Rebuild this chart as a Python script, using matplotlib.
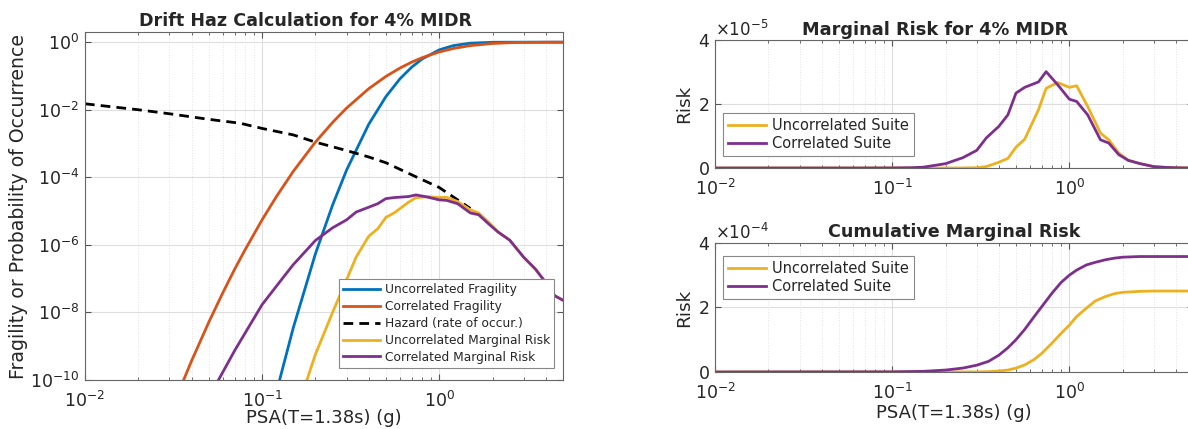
import matplotlib
matplotlib.use("Agg")
import matplotlib.pyplot as plt
from matplotlib.ticker import LogLocator, NullLocator, NullFormatter, ScalarFormatter, FixedLocator

# ---- data ----
psa_frag = [0.01, 0.02, 0.03, 0.04, 0.05, 0.06, 0.07, 0.08, 0.1, 0.12, 0.15, 0.2,
            0.25, 0.3, 0.4, 0.5, 0.6, 0.7, 0.8, 1.0, 1.2, 1.5, 2.0, 2.5, 3.0, 4.0, 5.0]
frag_uncorr = [1e-47, 1e-34, 1e-27, 1e-23, 1e-20, 1e-18, 1e-16, 3.4e-15, 7.2e-13, 4.0e-11,
               3.5e-9, 5.4e-7, 1.5e-5, 1.64e-4, 3.7e-3, 0.0244, 0.082, 0.183, 0.317,
               0.591, 0.790, 0.935, 0.9925, 0.9992, 0.9999, 1.0, 1.0]
frag_corr = [6e-19, 3.4e-14, 9.8e-12, 3.7e-10, 5.1e-9, 3.8e-8, 1.9e-7, 7.0e-7, 5.5e-6,
             2.6e-5, 1.5e-4, 1.1e-3, 4.2e-3, 0.0112, 0.0419, 0.0968, 0.171, 0.257, 0.346,
             0.513, 0.649, 0.792, 0.914, 0.964, 0.984, 0.9965, 0.9991]

psa_haz = [0.01, 0.02, 0.03, 0.05, 0.075, 0.1, 0.15, 0.2, 0.3, 0.4, 0.5, 0.75, 1.0, 1.5]
hazard = [1.5e-2, 1.0e-2, 7.6e-3, 5.2e-3, 4.0e-3, 2.8e-3, 1.8e-3, 1.1e-3, 6.2e-4,
          4.0e-4, 2.7e-4, 1.0e-4, 5.0e-5, 1.2e-5]

psa_risk = [0.01, 0.02, 0.03, 0.05, 0.07, 0.1, 0.13, 0.15, 0.2, 0.25, 0.3, 0.34, 0.4,
            0.45, 0.5, 0.56, 0.67, 0.74, 0.86, 1.0, 1.1, 1.27, 1.5, 1.67, 1.9, 2.15,
            2.5, 3.0, 3.5, 4.0, 4.5, 5.0]
risk_uncorr = [1e-28, 1e-24, 1e-22, 1e-19, 1e-17, 1e-14, 6e-13, 6e-12, 5.7e-10, 1.0e-8,
               9.3e-8, 4.4e-7, 1.8e-6, 3.0e-6, 6.5e-6, 9.0e-6, 1.82e-5, 2.49e-5, 2.67e-5,
               2.52e-5, 2.57e-5, 1.92e-5, 1.09e-5, 8.8e-6, 4.7e-6, 2.4e-6,
               1.4e-6, 4.3e-7, 1.9e-7, 7.6e-8, 3.1e-8, 2.3e-8]
risk_corr = [1e-17, 5e-15, 2.5e-13, 3e-11, 7.4e-10, 1.7e-8, 1.0e-7, 2.6e-7, 1.35e-6,
             3.2e-6, 5.5e-6, 9.4e-6, 1.3e-5, 1.66e-5, 2.34e-5, 2.52e-5, 2.69e-5, 3.01e-5,
             2.6e-5, 2.15e-5, 2.08e-5, 1.66e-5, 8.8e-6, 7.8e-6, 4.2e-6, 2.4e-6,
             1.38e-6, 4.3e-7, 1.9e-7, 7.6e-8, 3.1e-8, 2.3e-8]

psa_cum = [0.01, 0.1, 0.15, 0.2, 0.25, 0.3, 0.35, 0.4, 0.45, 0.5, 0.56, 0.63, 0.7, 0.8,
           0.9, 1.0, 1.1, 1.25, 1.4, 1.6, 1.8, 2.0, 2.5, 3.0, 4.0, 5.0]
cum_uncorr = [0, 0, 0, 0, 0.001e-4, 0.003e-4, 0.01e-4, 0.03e-4, 0.06e-4, 0.12e-4,
              0.22e-4, 0.38e-4, 0.58e-4, 0.9e-4, 1.2e-4, 1.45e-4, 1.72e-4, 1.98e-4,
              2.2e-4, 2.34e-4, 2.43e-4, 2.47e-4, 2.50e-4, 2.51e-4, 2.51e-4, 2.51e-4]
cum_corr = [0, 0.005e-4, 0.02e-4, 0.06e-4, 0.12e-4, 0.21e-4, 0.33e-4, 0.52e-4, 0.75e-4,
            1.0e-4, 1.32e-4, 1.7e-4, 2.03e-4, 2.45e-4, 2.78e-4, 3.0e-4, 3.16e-4, 3.32e-4,
            3.40e-4, 3.48e-4, 3.53e-4, 3.56e-4, 3.58e-4, 3.58e-4, 3.58e-4, 3.58e-4]

BLUE, ORANGE, YELLOW, PURPLE = "#0072BD", "#D95319", "#EDB120", "#7E2F8E"
TXT = "#262626"
plt.rcParams["font.family"] = ["DejaVu Sans"]
plt.rcParams["text.color"] = TXT
plt.rcParams["axes.labelcolor"] = TXT
plt.rcParams["xtick.color"] = TXT
plt.rcParams["ytick.color"] = TXT


def style_axes(ax):
    for s in ax.spines.values():
        s.set_color("#666666")
        s.set_linewidth(0.8)
    ax.tick_params(which="both", direction="in", top=True, right=True,
                   labelsize=12.5, color="#555555")
    ax.tick_params(which="major", length=4)
    ax.tick_params(which="minor", length=2.5)
    ax.tick_params(axis="x", which="major", pad=7.5)
    ax.tick_params(axis="y", which="major", pad=4)
    ax.set_xscale("log")
    ax.set_xlim(0.01, 5)
    ax.xaxis.set_major_locator(FixedLocator([0.01, 0.1, 1.0]))
    ax.xaxis.set_minor_locator(LogLocator(base=10, subs=range(2, 10)))
    ax.xaxis.set_minor_formatter(NullFormatter())
    ax.grid(True, which="major", color="#dedede", lw=0.8)
    ax.grid(True, which="minor", axis="x", color="#e3e3e3", lw=0.7, ls=":")
    ax.set_axisbelow(True)


def legend(ax, **kw):
    leg = ax.legend(fancybox=False, framealpha=1, edgecolor="#888888",
                    borderaxespad=0, handletextpad=0.4, borderpad=0.35, **kw)
    leg.get_frame().set_linewidth(0.8)
    return leg


fig = plt.figure(figsize=(11.88, 4.29), dpi=100)

# left panel
ax = fig.add_axes([0.0715, 0.1142, 0.4024, 0.8112])
ax.plot(psa_frag, frag_uncorr, color=BLUE, lw=2, label="Uncorrelated Fragility")
ax.plot(psa_frag, frag_corr, color=ORANGE, lw=2, label="Correlated Fragility")
ax.plot(psa_haz, hazard, color="black", lw=2, dashes=(3.5, 2.2),
        label="Hazard (rate of occur.)")
ax.plot(psa_risk, risk_uncorr, color=YELLOW, lw=2, label="Uncorrelated Marginal Risk")
ax.plot(psa_risk, risk_corr, color=PURPLE, lw=2, label="Correlated Marginal Risk")
style_axes(ax)
ax.set_yscale("log")
ax.set_ylim(1e-10, 2)
ax.yaxis.set_major_locator(FixedLocator([1e-10, 1e-8, 1e-6, 1e-4, 1e-2, 1e0]))
ax.yaxis.set_minor_locator(NullLocator())
ax.set_title("Drift Haz Calculation for 4% MIDR", fontsize=12.6, fontweight="bold",
             pad=4, x=0.462)
ax.set_xlabel("PSA(T=1.38s) (g)", fontsize=13, labelpad=-1)
ax.set_ylabel("Fragility or Probability of Occurrence", fontsize=13.6, labelpad=2)
legend(ax, loc="lower left", bbox_to_anchor=(0.531, 0.0345), fontsize=8.8,
       handlelength=3.0, labelspacing=0.32)

# right top panel
ax2 = fig.add_axes([0.6019, 0.6084, 0.4024, 0.2984])
ax2.plot(psa_risk, risk_uncorr, color=YELLOW, lw=2, label="Uncorrelated Suite")
ax2.plot(psa_risk, risk_corr, color=PURPLE, lw=2, label="Correlated Suite")
style_axes(ax2)
ax2.set_ylim(0, 4e-5)
ax2.yaxis.set_major_locator(FixedLocator([0, 2e-5, 4e-5]))
ax2.set_title("Marginal Risk for 4% MIDR", fontsize=12.8, fontweight="bold",
              pad=3.5, x=0.461)
ax2.set_ylabel("Risk", fontsize=13.3, labelpad=3)
legend(ax2, loc="lower left", bbox_to_anchor=(0.017, 0.094), fontsize=10.5,
       handlelength=2.6, labelspacing=0.2)

# right bottom panel
ax3 = fig.add_axes([0.6019, 0.1329, 0.4024, 0.3007])
ax3.plot(psa_cum, cum_uncorr, color=YELLOW, lw=2, label="Uncorrelated Suite")
ax3.plot(psa_cum, cum_corr, color=PURPLE, lw=2, label="Correlated Suite")
style_axes(ax3)
ax3.set_ylim(0, 4e-4)
ax3.yaxis.set_major_locator(FixedLocator([0, 2e-4, 4e-4]))
ax3.set_title("Cumulative Marginal Risk", fontsize=12.6, fontweight="bold", pad=4.5)
ax3.set_xlabel("PSA(T=1.38s) (g)", fontsize=13, labelpad=1)
ax3.set_ylabel("Risk", fontsize=13.3, labelpad=3)
legend(ax3, loc="upper left", bbox_to_anchor=(0.017, 0.899), fontsize=10.5,
       handlelength=2.6, labelspacing=0.2)

for a in (ax2, ax3):
    fmt = ScalarFormatter(useMathText=True)
    fmt.set_powerlimits((0, 0))
    a.yaxis.set_major_formatter(fmt)
    a.yaxis.get_offset_text().set_fontsize(12)

fig.savefig("out.png", dpi=100)
